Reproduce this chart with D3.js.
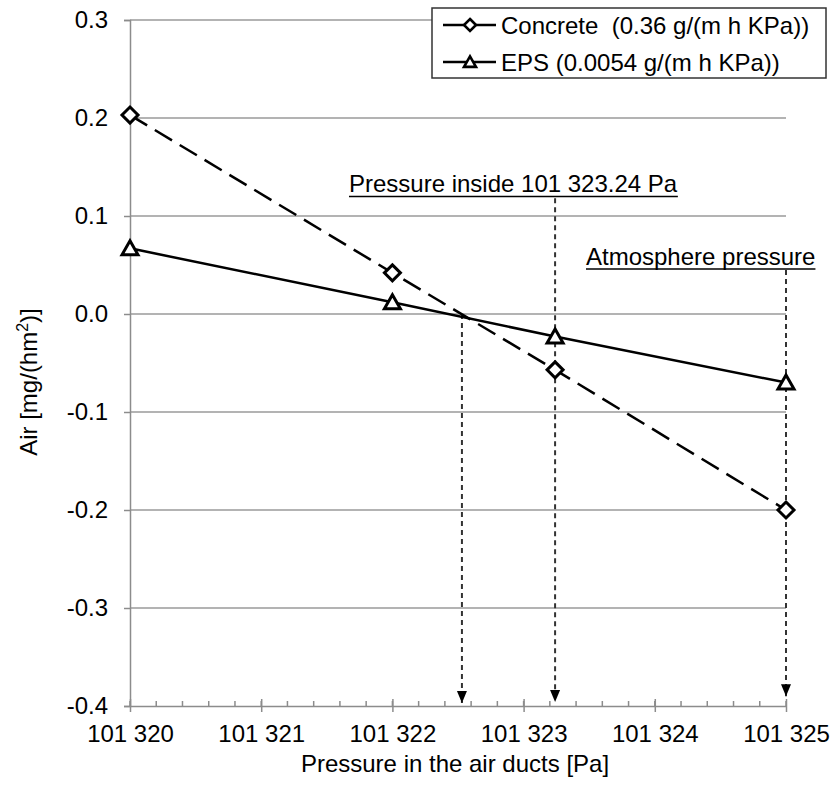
<!DOCTYPE html>
<html>
<head>
<meta charset="utf-8">
<script src="https://cdn.jsdelivr.net/npm/d3@7"></script>
<style>
  body { margin: 0; background: #fff; }
  text { font-family: "Liberation Sans", Arial, sans-serif; fill: #000; white-space: pre; }
</style>
</head>
<body>
<div id="chart"></div>
<script>
// data
var pressure = [101320, 101322, 101323.24, 101325];
var concrete = [0.203, 0.042, -0.057, -0.200];
var eps = [0.067, 0.012, -0.023, -0.070];
var seriesNames = ['Concrete  (0.36 g/(m h KPa))', 'EPS (0.0054 g/(m h KPa))'];
var xTicks = [101320, 101321, 101322, 101323, 101324, 101325];
var yTicks = [0.3, 0.2, 0.1, 0.0, -0.1, -0.2, -0.3, -0.4];
// dashed arrows: x position and starting value
var arrowX = [101322.53, 101323.24, 101325];
var arrowFrom = [0.0, 0.118, 0.045];
var arrowTo = [-0.397, -0.396, -0.39];
var notes = [
  { text: 'Pressure inside 101 323.24 Pa', x: 101322.92, y: 0.124 },
  { text: 'Atmosphere pressure', x: 101324.35, y: 0.05 }
];

var width = 836, height = 789;
var plotLeft = 130, plotRight = 786, plotTop = 20, plotBottom = 706;
var fontSize = '24px';

var svg = d3.select('#chart').append('svg')
  .attr('width', width)
  .attr('height', height);

var x = d3.scaleLinear().domain([101320, 101325]).range([plotLeft, plotRight]);
var y = d3.scaleLinear().domain([-0.4, 0.3]).range([plotBottom, plotTop]);

// grid lines
svg.append('g').selectAll('line')
  .data(yTicks.filter(function(d) { return d > -0.4; }))
  .enter().append('line')
  .attr('x1', plotLeft).attr('x2', plotRight)
  .attr('y1', function(d) { return y(d); })
  .attr('y2', function(d) { return y(d); })
  .attr('stroke', '#9a9a9a').attr('stroke-width', 1.3);

// y axis
var yAxis = svg.append('g')
  .attr('transform', 'translate(' + plotLeft + ',0)')
  .call(d3.axisLeft(y).tickValues(yTicks).tickSize(6).tickPadding(16)
    .tickFormat(function(d) { return d.toFixed(1).replace('\u2212', '-'); }));
yAxis.selectAll('path, line').attr('stroke', '#8c8c8c').attr('stroke-width', 1.5);
yAxis.selectAll('text').style('font-size', fontSize).attr('fill', '#000');

// x axis: minor ticks inside, major ticks crossing
var minor = d3.range(101320, 101325.01, 0.2);
svg.append('g').selectAll('line')
  .data(minor)
  .enter().append('line')
  .attr('x1', function(d) { return x(d); })
  .attr('x2', function(d) { return x(d); })
  .attr('y1', plotBottom - 5).attr('y2', plotBottom)
  .attr('stroke', '#8c8c8c').attr('stroke-width', 1.5);
var xAxis = svg.append('g')
  .attr('transform', 'translate(0,' + plotBottom + ')')
  .call(d3.axisBottom(x).tickValues(xTicks).tickSizeInner(6).tickSizeOuter(0).tickPadding(13)
    .tickFormat(function(d) { return '101 ' + String(d).slice(3); }));
xAxis.selectAll('path, line').attr('stroke', '#8c8c8c').attr('stroke-width', 1.5);
xAxis.selectAll('.tick line').attr('y1', -7);
xAxis.selectAll('text').style('font-size', fontSize).attr('fill', '#000');

// axis titles
svg.append('text')
  .attr('x', 455).attr('y', 772)
  .attr('text-anchor', 'middle')
  .style('font-size', fontSize)
  .text('Pressure in the air ducts [Pa]');
var yt = svg.append('text')
  .attr('transform', 'translate(37,' + 382 + ') rotate(-90)')
  .attr('text-anchor', 'middle')
  .style('font-size', fontSize);
yt.append('tspan').text('Air [mg/(hm');
yt.append('tspan').attr('dy', -9).style('font-size', '16px').text('2');
yt.append('tspan').attr('dy', 9).text(')]');

// dashed arrows
svg.append('g').selectAll('line')
  .data(arrowX)
  .enter().append('line')
  .attr('x1', function(d) { return x(d); })
  .attr('x2', function(d) { return x(d); })
  .attr('y1', function(d, i) { return y(arrowFrom[i]); })
  .attr('y2', function(d, i) { return y(arrowTo[i]); })
  .attr('stroke', '#333').attr('stroke-width', 2)
  .attr('stroke-dasharray', '5,4');
svg.append('g').selectAll('path')
  .data(arrowX)
  .enter().append('path')
  .attr('transform', function(d, i) { return 'translate(' + x(d) + ',' + y(arrowTo[i]) + ')'; })
  .attr('d', 'M-5,-12L5,-12L0,0Z')
  .attr('fill', '#000');

// annotations
notes.forEach(function(n) {
  var t = svg.append('text')
    .attr('x', x(n.x)).attr('y', y(n.y))
    .attr('text-anchor', 'middle')
    .style('font-size', fontSize)
    .text(n.text);
  var b = t.node().getBBox();
  svg.append('line')
    .attr('x1', b.x).attr('x2', b.x + b.width)
    .attr('y1', y(n.y) + 4).attr('y2', y(n.y) + 4)
    .attr('stroke', '#000').attr('stroke-width', 1.5);
});

// series
var diamond = 'M0,-8L8,0L0,8L-8,0Z';
var triangle = 'M0,-7.5L8,6.5L-8,6.5Z';
var series = [
  { values: concrete, dash: '20,9', symbol: diamond },
  { values: eps, dash: null, symbol: triangle }
];
var line = d3.line()
  .x(function(d) { return x(d[0]); })
  .y(function(d) { return y(d[1]); });

series.forEach(function(s) {
  var pts = pressure.map(function(p, i) { return [p, s.values[i]]; });
  svg.append('path')
    .datum(pts)
    .attr('d', line)
    .attr('fill', 'none')
    .attr('stroke', '#000').attr('stroke-width', 2.5)
    .attr('stroke-dasharray', s.dash);
  svg.append('g').selectAll('path')
    .data(pts)
    .enter().append('path')
    .attr('transform', function(d) { return 'translate(' + x(d[0]) + ',' + y(d[1]) + ')'; })
    .attr('d', s.symbol)
    .attr('fill', '#fff')
    .attr('stroke', '#000').attr('stroke-width', 3);
});

// legend
var lg = svg.append('g');
lg.append('rect')
  .attr('x', 432).attr('y', 8).attr('width', 394).attr('height', 70)
  .attr('fill', '#fff').attr('stroke', '#333').attr('stroke-width', 1.5);
series.forEach(function(s, i) {
  var cy = 25 + i * 37;
  lg.append('line')
    .attr('x1', 443).attr('x2', 496).attr('y1', cy).attr('y2', cy)
    .attr('stroke', '#000').attr('stroke-width', 2.5);
  lg.append('path')
    .attr('transform', 'translate(470,' + cy + ') scale(0.75)')
    .attr('d', s.symbol)
    .attr('fill', '#fff').attr('stroke', '#000').attr('stroke-width', 3.5);
  lg.append('text')
    .attr('x', 501).attr('y', cy + 9)
    .style('font-size', fontSize)
    .text(seriesNames[i]);
});
</script>
</body>
</html>
